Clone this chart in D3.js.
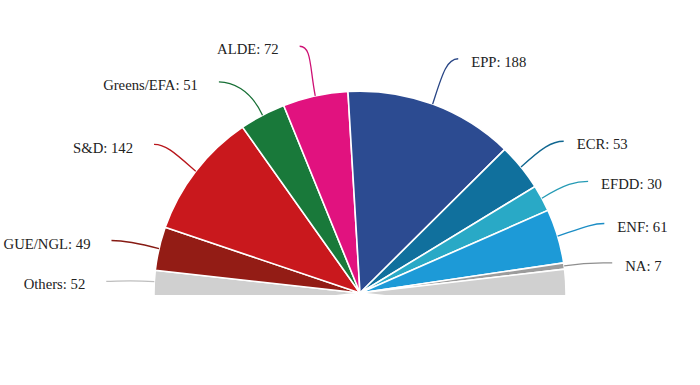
<!DOCTYPE html>
<html>
<head>
<meta charset="utf-8">
<script src="https://cdn.jsdelivr.net/npm/d3@7"></script>
<style>
  html, body { margin: 0; padding: 0; background: #fff; }
  svg { display: block; }
</style>
</head>
<body>
<svg id="chart"></svg>
<script>
// European Parliament seats per group, left to right
var parties = ["Others", "GUE/NGL", "S&D", "Greens/EFA", "ALDE", "EPP", "ECR", "EFDD", "ENF", "NA", ""];
var seats   = [52, 49, 142, 51, 72, 188, 53, 30, 61, 7, 52];
var colors  = ["#d0d0d0", "#931c15", "#c9181d", "#19793a", "#e1127f", "#2c4b91", "#10709d", "#29a9c6", "#1d9ad7", "#9c9c9c", "#d0d0d0"];
// how far each leader line swings from the slice middle (degrees)
var turns   = [-0.6, -0.8, -1.3, -5.5, -1.2, 2.1, 1.9, 1.9, 0.5, 0.9, 0];

var vWidth = 700, vHeight = 385;
var cx = 360, cy = 293, radius = 206;
var sy = 0.98;               // picture is squeezed a little vertically
var tilt = 6.8;              // the half pie is turned a bit to the left
var labelled = 705;          // seats spread over 180 degrees

var svg = d3.select("#chart")
    .attr("width", vWidth)
    .attr("height", vHeight);

svg.append("defs").append("clipPath").attr("id", "cut")
    .append("rect")
    .attr("x", 0).attr("y", 0)
    .attr("width", vWidth).attr("height", cy + 2);

var rad = Math.PI / 180;
var total = d3.sum(seats);
var start = (-90 - tilt) * rad;

var data = parties.map(function (p, i) {
    return {name: p, value: seats[i], color: colors[i], turn: turns[i]};
});

var pie = d3.pie()
    .sort(null)
    .value(function (d) { return d.value; })
    .startAngle(start)
    .endAngle(start + total * Math.PI / labelled);

var arc = d3.arc().innerRadius(0).outerRadius(radius);
var arcs = pie(data);

svg.append("g")
    .attr("clip-path", "url(#cut)")
    .append("g")
    .attr("transform", "translate(" + cx + "," + cy + ") scale(1," + sy + ")")
    .selectAll("path").data(arcs).enter().append("path")
    .attr("d", arc)
    .attr("fill", function (d) { return d.data.color; })
    .attr("stroke", "#fff")
    .attr("stroke-width", 1.6)
    .attr("vector-effect", "non-scaling-stroke");

var g = svg.append("g").attr("transform", "translate(" + cx + "," + cy + ")");

function polar(r, a) {
    return [r * Math.sin(a), -r * Math.cos(a)];
}

// labels with curved leader lines
var labels = arcs.filter(function (d) { return d.data.name !== ""; });

labels.forEach(function (d) {
    var a0 = Math.max(d.startAngle, -Math.PI / 2);
    var a1 = Math.min(d.endAngle, Math.PI / 2);
    var mid = (a0 + a1) / 2;
    var side = mid >= 0 ? 1 : -1;
    var p0 = polar(radius, mid);
    p0[1] *= sy;
    var c1 = polar(radius + 26, mid);
    var p1 = polar(radius + 48, mid + d.data.turn * rad);
    var c2 = [p1[0] - side * 12, p1[1]];

    var path = d3.path();
    path.moveTo(p0[0], p0[1]);
    path.bezierCurveTo(c1[0], c1[1], c2[0], c2[1], p1[0], p1[1]);

    g.append("path")
        .attr("d", path.toString())
        .attr("fill", "none")
        .attr("stroke", d3.color(d.data.color).darker(0.25))
        .attr("stroke-width", 1.3);

    g.append("text")
        .attr("x", p1[0] + side * (side > 0 ? 13 : 21))
        .attr("y", p1[1] + 3)
        .attr("dy", "0.35em")
        .attr("text-anchor", side > 0 ? "start" : "end")
        .attr("font-family", "'Liberation Serif', 'Times New Roman', serif")
        .attr("font-size", 14.7)
        .attr("fill", "#222")
        .text(d.data.name + ": " + d.data.value);
});
</script>
</body>
</html>
